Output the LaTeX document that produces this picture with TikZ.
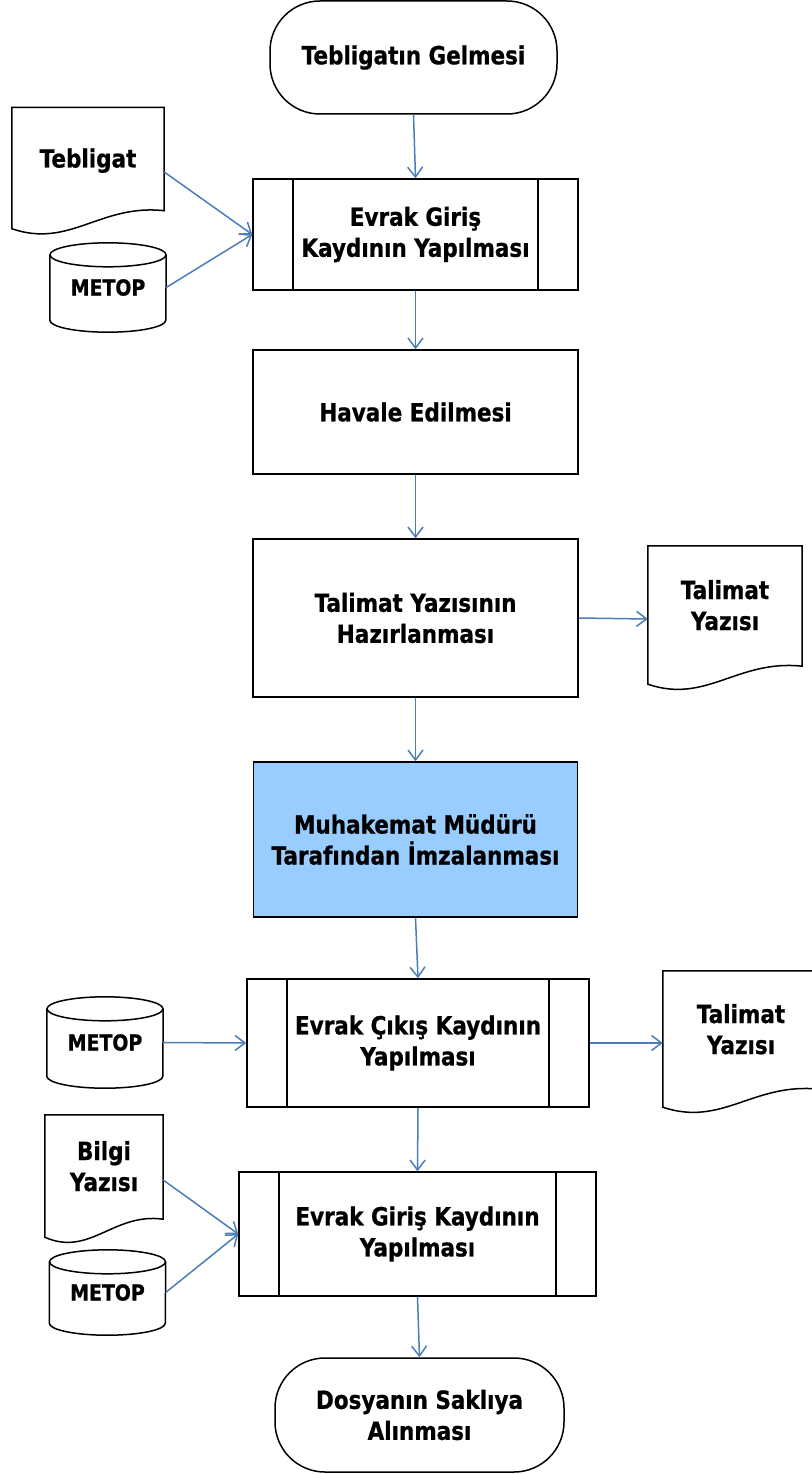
\documentclass[tikz,border=0pt]{standalone}
\usepackage{fontspec}
\setmainfont{DejaVu Sans}[FakeStretch=0.86, BoldFeatures={FakeBold=0.8}]
\usetikzlibrary{arrows.meta, calc}

\definecolor{flowblue}{HTML}{4A7EBB}
\definecolor{signblue}{HTML}{99CCFF}

\tikzset{
  every node/.style={font=\bfseries\fontsize{25}{31}\selectfont, align=center},
  terminal/.style={draw, rectangle, rounded corners=50pt, line width=1.5pt},
  task/.style={draw, rectangle, line width=1.5pt},
  subtask/.style={task, path picture={
      \draw[line width=1.5pt] ([xshift=40pt]path picture bounding box.north west)
        -- ([xshift=40pt]path picture bounding box.south west);
      \draw[line width=1.5pt] ([xshift=-40pt]path picture bounding box.north east)
        -- ([xshift=-40pt]path picture bounding box.south east);}},
  paper/.style={rectangle, text depth=28pt},
  store/.style={rectangle, minimum width=116, font=\bfseries\fontsize{22}{26}\selectfont},
  flow/.style={draw=flowblue, line width=1.5pt, -{Straight Barb[length=10pt,width=15pt]}}
}

% document outline round a node
\newcommand{\papershape}[1]{%
  \draw[line width=1.5pt] (#1.north west) -- (#1.north east) -- ($(#1.south east)+(0,26)$)
    .. controls ($(#1.south west)!0.58!(#1.south east)+(0,33)$)
    and ($(#1.south west)!0.38!(#1.south east)+(0,-12)$) .. ($(#1.south west)+(0,8)$) -- cycle;}
% database outline round a node
\newcommand{\storeshape}[1]{%
  \draw[line width=1.5pt] ($(#1.north west)+(0,-12)$) -- ($(#1.south west)+(0,12)$)
    arc[start angle=180, end angle=360, x radius=58, y radius=12] -- ($(#1.north east)+(0,-12)$);
  \draw[line width=1.5pt] ($(#1.north)+(0,-12)$) ellipse [x radius=58, y radius=12];}

\begin{document}
\begin{tikzpicture}[x=1pt, y=1pt]
      \useasboundingbox (0,0) rectangle (811,-1474);

      % giris
      \node[terminal, minimum width=287, minimum height=113] (start) at (413.5,-57.5) {Tebligatın Gelmesi};
      \node[paper, minimum width=152, minimum height=129] (tebligat) at (88,-172) {Tebligat};
      \papershape{tebligat}
      \node[store, minimum height=89] (metop1) at (108,-287.5) {METOP};
      \storeshape{metop1}
      \node[subtask, minimum width=325, minimum height=111] (kayit1) at (415.5,-234.5) {Evrak Giriş\\Kaydının Yapılması};

      % havale ve talimat
      \node[task, minimum width=325, minimum height=124] (havale) at (415.5,-412) {Havale Edilmesi};
      \node[task, minimum width=325, minimum height=158] (talimat) at (415.5,-618) {Talimat Yazısının\\Hazırlanması};
      \node[paper, minimum width=154, minimum height=146] (yazi1) at (725,-619) {Talimat\\Yazısı};
      \papershape{yazi1}
      \node[task, fill=signblue, minimum width=324, minimum height=155] (imza) at (415.5,-839.5) {Muhakemat Müdürü\\Tarafından İmzalanması};

      % cikis
      \node[subtask, minimum width=342, minimum height=128] (cikis) at (418,-1043) {Evrak Çıkış Kaydının\\Yapılması};
      \node[store, minimum height=91] (metop2) at (105,-1042.5) {METOP};
      \storeshape{metop2}
      \node[paper, minimum width=156, minimum height=144] (yazi2) at (741,-1043) {Talimat\\Yazısı};
      \papershape{yazi2}

      % bilgi girisi
      \node[subtask, minimum width=357, minimum height=124] (kayit2) at (417.5,-1234) {Evrak Giriş Kaydının\\Yapılması};
      \node[paper, minimum width=118, minimum height=130] (bilgi) at (104,-1180) {Bilgi\\Yazısı};
      \papershape{bilgi}
      \node[store, minimum height=85] (metop3) at (107.5,-1292.5) {METOP};
      \storeshape{metop3}
      \node[terminal, minimum width=289, minimum height=114] (son) at (419.5,-1415) {Dosyanın Saklıya\\Alınması};

      % oklar
      \draw[flow] (start.south) -- (kayit1.north);
      \draw[flow] (tebligat.east) -- (kayit1.west);
      \draw[flow] (metop1.east) -- (kayit1.west);
      \draw[flow] (kayit1.south) -- (havale.north);
      \draw[flow] (havale.south) -- (talimat.north);
      \draw[flow] (talimat.east) -- (yazi1.west);
      \draw[flow] (talimat.south) -- (imza.north);
      \draw[flow] (imza.south) -- (cikis.north);
      \draw[flow] (metop2.east) -- (cikis.west);
      \draw[flow] (cikis.east) -- (yazi2.west);
      \draw[flow] (cikis.south) -- (kayit2.north);
      \draw[flow] (bilgi.east) -- (kayit2.west);
      \draw[flow] (metop3.east) -- (kayit2.west);
      \draw[flow] (kayit2.south) -- (son.north);
    \end{tikzpicture}
\end{document}
